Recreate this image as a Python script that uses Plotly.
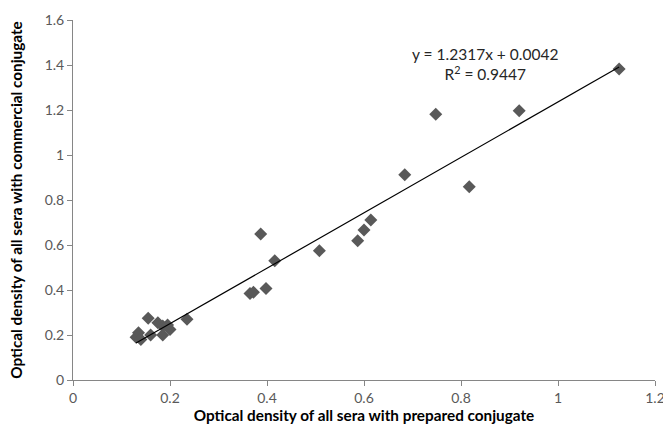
import plotly.graph_objects as go

# Data
x_prepared = [0.130, 0.135, 0.140, 0.155, 0.160, 0.175, 0.185, 0.185, 0.195, 0.200, 0.235,
              0.365, 0.372, 0.387, 0.398, 0.416, 0.508, 0.587, 0.600, 0.614,
              0.684, 0.748, 0.817, 0.920, 1.126]
y_commercial = [0.190, 0.210, 0.180, 0.275, 0.200, 0.255, 0.240, 0.200, 0.245, 0.225, 0.270,
                0.385, 0.390, 0.649, 0.407, 0.530, 0.575, 0.619, 0.667, 0.711,
                0.912, 1.181, 0.859, 1.197, 1.382]

slope = 1.2317
intercept = 0.0042
r2 = 0.9447

x_ticks = [0, 0.2, 0.4, 0.6, 0.8, 1, 1.2]
x_ticklabels = ["0", "0.2", "0.4", "0.6", "0.8", "1", "1.2"]
y_ticks = [0, 0.2, 0.4, 0.6, 0.8, 1, 1.2, 1.4, 1.6]
y_ticklabels = ["0", "0.2", "0.4", "0.6", "0.8", "1", "1.2", "1.4", "1.6"]

xmin, xmax = min(x_prepared), max(x_prepared)
trend_x = [xmin, xmax]
trend_y = [slope * v + intercept for v in trend_x]

FONT = "Lato, Open Sans, sans-serif"

fig = go.Figure()
fig.add_trace(go.Scatter(
    x=x_prepared, y=y_commercial, mode="markers",
    marker=dict(symbol="diamond", size=10, color="#595959", line=dict(width=0)),
    showlegend=False, hoverinfo="x+y"))
fig.add_trace(go.Scatter(
    x=trend_x, y=trend_y, mode="lines",
    line=dict(color="#000000", width=1.2), showlegend=False))

fig.add_annotation(
    x=0.85, y=1.405, xref="x", yref="y",
    text=f"y = {slope}x + {intercept}<br>R<sup>2</sup> = {r2}",
    showarrow=False, align="center",
    font=dict(family=FONT, size=15.5, color="#262626"))

axis_common = dict(
    showgrid=False, zeroline=False, showline=True, linecolor="#868686", linewidth=1,
    ticks="outside", ticklen=5, tickcolor="#868686", tickwidth=1,
    tickfont=dict(family=FONT, size=14, color="#595959"),
    ticklabeloverflow="allow", automargin=False,
)

fig.update_layout(
    width=663, height=429,
    margin=dict(l=73, r=8, t=20, b=49),
    paper_bgcolor="white", plot_bgcolor="white",
    xaxis=dict(range=[0, 1.2], tickvals=x_ticks, ticktext=x_ticklabels,
               title=dict(text="<b>Optical density of all sera with prepared conjugate</b>",
                          font=dict(family=FONT, size=15.3, color="#000000"),
                          standoff=0),
               **axis_common),
    yaxis=dict(range=[0, 1.6], tickvals=y_ticks, ticktext=y_ticklabels,
               title=dict(text="<b>Optical density of all sera with commercial conjugate</b>",
                          font=dict(family=FONT, size=15.3, color="#000000"),
                          standoff=18),
               **axis_common),
)

fig.write_html("out.html")
